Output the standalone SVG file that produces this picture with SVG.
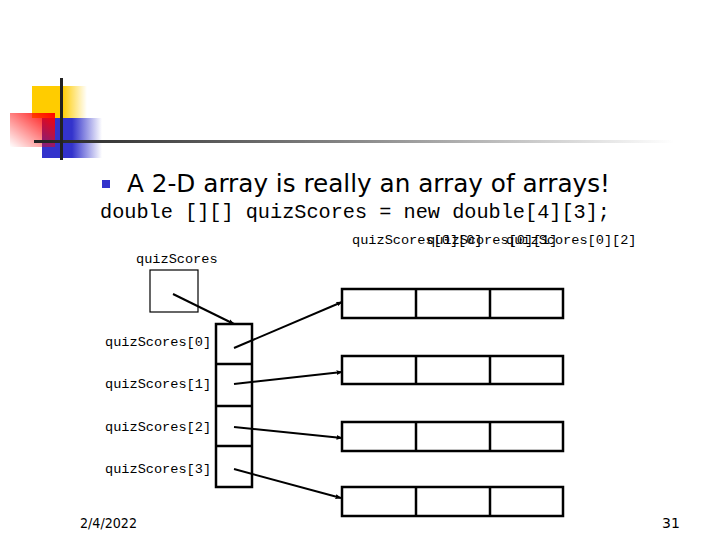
<svg xmlns="http://www.w3.org/2000/svg" width="720" height="540" viewBox="0 0 720 540">
<defs>
<linearGradient id="gy" x1="0" y1="0" x2="1" y2="0"><stop offset="0" stop-color="#FFCC00"/><stop offset="0.55" stop-color="#FFCC00"/><stop offset="1" stop-color="#FFCC00" stop-opacity="0"/></linearGradient>
<linearGradient id="gb" x1="0" y1="0" x2="1" y2="0"><stop offset="0" stop-color="#3333CC"/><stop offset="0.5" stop-color="#3333CC"/><stop offset="1" stop-color="#3333CC" stop-opacity="0"/></linearGradient>
<linearGradient id="gr" x1="1" y1="0" x2="0" y2="1"><stop offset="0" stop-color="#FF0000"/><stop offset="1" stop-color="#FF0000" stop-opacity="0"/></linearGradient>
<linearGradient id="gl" x1="0" y1="0" x2="1" y2="0"><stop offset="0" stop-color="#222"/><stop offset="0.5" stop-color="#888"/><stop offset="1" stop-color="#fff"/></linearGradient>
<marker id="ah" viewBox="0 0 10 10" refX="9" refY="5" markerWidth="6" markerHeight="6" markerUnits="userSpaceOnUse" orient="auto"><path d="M0,1 L10,5 L0,9 z" fill="#000"/></marker>
<style>
.mono{font-family:"Liberation Mono","Courier New",monospace;fill:#000}
.lbl{font-size:13.6px}
.cell{fill:#fff;stroke:#000;stroke-width:2.5}
.conn{stroke:#000;stroke-width:2;fill:none;marker-end:url(#ah)}
.foot{font-family:"DejaVu Sans",Tahoma,sans-serif;font-size:14px;fill:#000}
</style>
</defs>
<rect width="720" height="540" fill="#fff"/>
<g id="logo">
<rect x="32" y="86" width="55" height="32" fill="url(#gy)"/>
<rect x="42" y="118" width="60" height="40" fill="url(#gb)"/>
<rect x="10" y="113" width="45" height="34" fill="url(#gr)"/>
<rect x="34" y="140" width="640" height="3" fill="url(#gl)"/>
<rect x="60" y="78" width="3" height="82" fill="#222"/>
</g>
<g id="title">
<rect x="102" y="180" width="8" height="8" fill="#3333CC"/>
<text x="127" y="192" font-family="DejaVu Sans, Tahoma, sans-serif" font-size="25" textLength="483" lengthAdjust="spacingAndGlyphs">A 2-D array is really an array of arrays!</text>
<text class="mono" x="100" y="218" font-size="20" textLength="510" lengthAdjust="spacingAndGlyphs">double [][] quizScores = new double[4][3];</text>
</g>
<g id="col-labels" class="mono lbl">
<text x="352" y="244">quizScores[0][0]</text>
<text x="427" y="244">quizScores[0][1]</text>
<text x="506" y="244">quizScores[0][2]</text>
</g>
<g id="ref">
<text class="mono lbl" x="136" y="263">quizScores</text>
<rect x="150" y="270" width="48" height="42" fill="#fff" stroke="#000" stroke-width="1.2"/>
</g>
<g id="outer">
<rect class="cell" x="216" y="324" width="36" height="163"/>
<line x1="216" y1="364" x2="252" y2="364" stroke="#000" stroke-width="2.5"/>
<line x1="216" y1="406" x2="252" y2="406" stroke="#000" stroke-width="2.5"/>
<line x1="216" y1="446" x2="252" y2="446" stroke="#000" stroke-width="2.5"/>
<g class="mono lbl">
<text x="105" y="346">quizScores[0]</text>
<text x="105" y="388">quizScores[1]</text>
<text x="105" y="431">quizScores[2]</text>
<text x="105" y="473">quizScores[3]</text>
</g>
</g>
<g id="row0"><rect class="cell" x="342" y="289" width="221" height="29"/><line x1="416" y1="289" x2="416" y2="318" stroke="#000" stroke-width="2.5"/><line x1="490" y1="289" x2="490" y2="318" stroke="#000" stroke-width="2.5"/></g>
<g id="row1"><rect class="cell" x="342" y="356" width="221" height="28"/><line x1="416" y1="356" x2="416" y2="384" stroke="#000" stroke-width="2.5"/><line x1="490" y1="356" x2="490" y2="384" stroke="#000" stroke-width="2.5"/></g>
<g id="row2"><rect class="cell" x="342" y="422" width="221" height="29"/><line x1="416" y1="422" x2="416" y2="451" stroke="#000" stroke-width="2.5"/><line x1="490" y1="422" x2="490" y2="451" stroke="#000" stroke-width="2.5"/></g>
<g id="row3"><rect class="cell" x="342" y="487" width="221" height="29"/><line x1="416" y1="487" x2="416" y2="516" stroke="#000" stroke-width="2.5"/><line x1="490" y1="487" x2="490" y2="516" stroke="#000" stroke-width="2.5"/></g>
<g id="connectors">
<line class="conn" x1="173" y1="294" x2="234" y2="324"/>
<line class="conn" x1="234" y1="348" x2="342" y2="302"/>
<line class="conn" x1="234" y1="384" x2="342" y2="372"/>
<line class="conn" x1="234" y1="427" x2="342" y2="438"/>
<line class="conn" x1="234" y1="469" x2="341" y2="498"/>
</g>
<g id="footer">
<text class="foot" x="80" y="528" textLength="57" lengthAdjust="spacingAndGlyphs">2/4/2022</text>
<text class="foot" x="662" y="528">31</text>
</g>
</svg>
